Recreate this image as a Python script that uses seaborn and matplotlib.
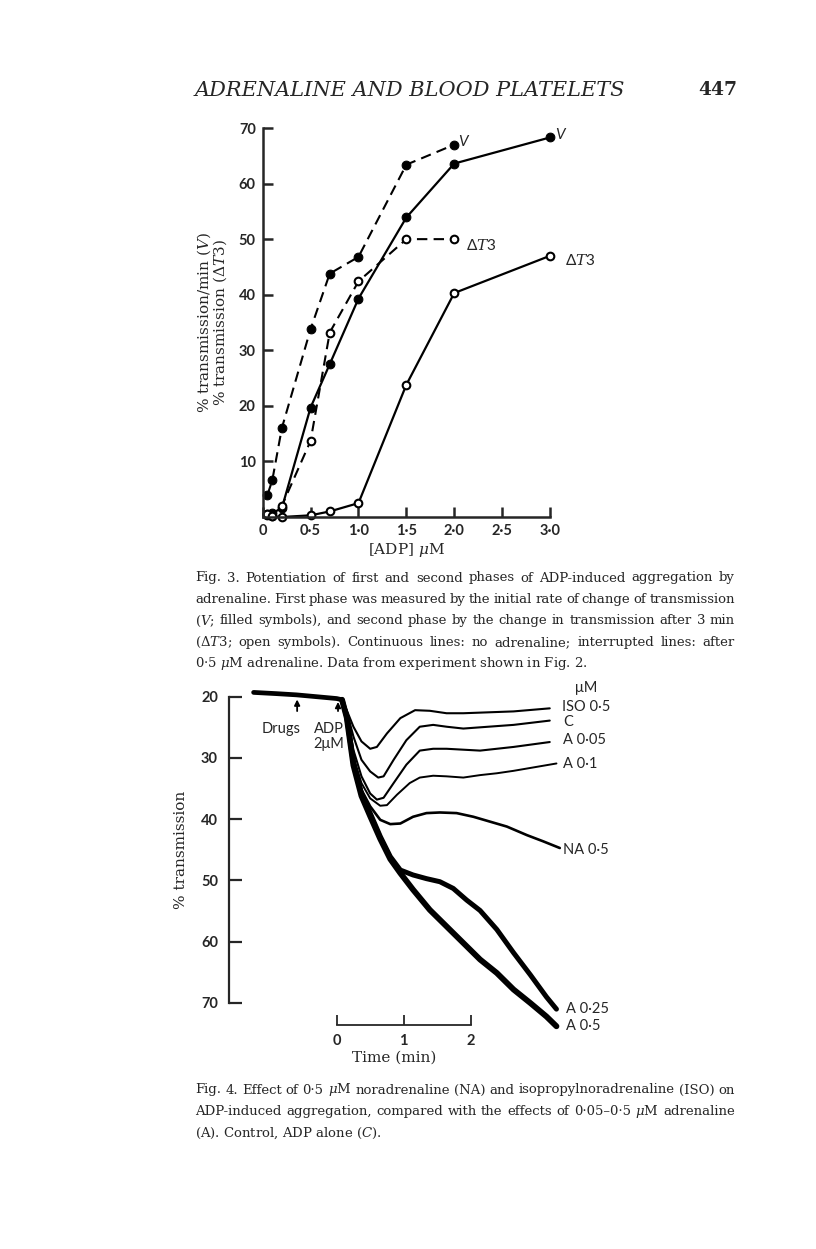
import matplotlib
matplotlib.use("Agg")
import matplotlib.pyplot as plt
import seaborn as sns

# ---- Fig. 3 data : [ADP] uM vs response
adp_v_adr = [0.05, 0.1, 0.2, 0.5, 0.7, 1.0, 1.5, 2.0]
v_adr = [4.0, 6.6, 16.0, 33.8, 43.8, 46.8, 63.4, 67.0]
adp_v_ctl = [0.05, 0.1, 0.2, 0.5, 0.7, 1.0, 1.5, 2.0, 3.0]
v_ctl = [0.4, 0.7, 1.6, 19.7, 27.5, 39.3, 53.9, 63.6, 68.3]
adp_dt_adr = [0.05, 0.1, 0.2, 0.5, 0.7, 1.0, 1.5, 2.0]
dt_adr = [0.6, 0.2, 2.0, 13.7, 33.2, 42.4, 50.0, 50.0]
adp_dt_ctl = [0.05, 0.1, 0.2, 0.5, 0.7, 1.0, 1.5, 2.0, 3.0]
dt_ctl = [0.5, 0.1, 0.0, 0.3, 1.0, 2.5, 23.8, 40.3, 47.0]

# ---- Fig. 4 data : time (min) vs % transmission
base_t = [-1.24, -0.9, -0.6, -0.3, 0.0, 0.08]
base_y = [19.3, 19.5, 19.7, 20.0, 20.3, 20.5]

iso_t = [0.08, 0.15, 0.25, 0.37, 0.5, 0.6, 0.75, 0.95, 1.17, 1.39, 1.64, 1.89, 2.14, 2.64, 3.18]
iso_y = [20.5, 22.2, 24.9, 27.3, 28.5, 28.2, 26.0, 23.5, 22.2, 22.3, 22.7, 22.7, 22.6, 22.4, 21.9]
c_t = [0.08, 0.15, 0.25, 0.37, 0.5, 0.62, 0.7, 0.85, 1.04, 1.24, 1.44, 1.64, 1.89, 2.14, 2.64, 3.18]
c_y = [20.5, 22.4, 26.5, 30.3, 32.2, 33.2, 33.0, 30.3, 27.1, 24.9, 24.6, 24.9, 25.2, 25.0, 24.6, 23.9]
a005_t = [0.08, 0.15, 0.25, 0.37, 0.5, 0.6, 0.7, 0.85, 1.04, 1.24, 1.44, 1.64, 2.14, 2.64, 3.18]
a005_y = [20.5, 22.7, 28.7, 33.0, 35.8, 36.8, 36.5, 34.1, 31.1, 28.8, 28.5, 28.5, 28.8, 28.2, 27.4]
a01_t = [0.08, 0.15, 0.25, 0.37, 0.5, 0.65, 0.75, 0.9, 1.09, 1.24, 1.44, 1.64, 1.89, 2.14, 2.39, 2.64, 3.28]
a01_y = [20.5, 23.0, 29.8, 34.1, 36.6, 37.8, 37.7, 36.0, 34.1, 33.2, 32.9, 33.0, 33.2, 32.8, 32.5, 32.1, 30.9]
na_t = [0.08, 0.15, 0.25, 0.37, 0.5, 0.65, 0.8, 0.95, 1.14, 1.34, 1.54, 1.79, 2.04, 2.29, 2.54, 2.84, 3.08, 3.33]
na_y = [20.5, 23.3, 30.3, 35.2, 37.9, 40.1, 40.8, 40.7, 39.6, 39.0, 38.9, 39.0, 39.6, 40.4, 41.2, 42.6, 43.6, 44.7]
a025_t = [0.08, 0.15, 0.25, 0.37, 0.5, 0.65, 0.8, 0.95, 1.14, 1.34, 1.54, 1.74, 1.94, 2.14, 2.39, 2.64, 2.89, 3.13, 3.28]
a025_y = [20.5, 23.3, 30.9, 35.8, 39.0, 42.8, 46.1, 48.3, 49.1, 49.7, 50.2, 51.3, 53.2, 54.9, 58.0, 61.8, 65.4, 69.0, 71.0]
a05_t = [0.08, 0.15, 0.25, 0.37, 0.5, 0.65, 0.8, 0.95, 1.14, 1.39, 1.64, 1.89, 2.14, 2.39, 2.64, 2.89, 3.13, 3.28]
a05_y = [20.5, 23.4, 31.2, 36.2, 39.5, 43.2, 46.5, 48.8, 51.5, 54.8, 57.5, 60.2, 62.9, 65.1, 67.8, 70.0, 72.2, 73.8]

W, H = 816, 1249
sns.set_style("ticks")
plt.rcParams["font.family"] = ["DejaVu Serif"]
plt.rcParams["mathtext.fontset"] = "dejavuserif"
SANS = "Lato"

fig = plt.figure(figsize=(W / 100, H / 100), dpi=100)
fig.patch.set_facecolor("white")


def rect(x0, y0, x1, y1):
    return [x0 / W, 1 - y1 / H, (x1 - x0) / W, (y1 - y0) / H]


def fx(x):
    return x / W


def fy(y):
    return 1 - y / H


# header
fig.text(fx(410), fy(90), "ADRENALINE AND BLOOD PLATELETS", ha="center", va="center",
         fontsize=15, style="italic")
fig.text(fx(718), fy(90), "447", ha="center", va="center", fontsize=13.5, weight="bold")

# ================= Fig. 3 =================
ax1 = fig.add_axes(rect(262.7, 128, 550, 517))
blk = "black"
sns.lineplot(x=adp_v_adr, y=v_adr, ax=ax1, color=blk, lw=1.5, linestyle=(0, (5, 3)),
             marker="o", markersize=6.3, markerfacecolor=blk, markeredgecolor=blk, sort=False, clip_on=False)
sns.lineplot(x=adp_v_ctl, y=v_ctl, ax=ax1, color=blk, lw=1.6,
             marker="o", markersize=6.3, markerfacecolor=blk, markeredgecolor=blk, sort=False, clip_on=False)
sns.lineplot(x=adp_dt_adr, y=dt_adr, ax=ax1, color=blk, lw=1.5, linestyle=(0, (5, 3)),
             marker="o", markersize=5.5, markerfacecolor="white", markeredgecolor=blk, markeredgewidth=1.5,
             sort=False, clip_on=False)
sns.lineplot(x=adp_dt_ctl, y=dt_ctl, ax=ax1, color=blk, lw=1.6,
             marker="o", markersize=5.5, markerfacecolor="white", markeredgecolor=blk, markeredgewidth=1.5,
             sort=False, clip_on=False)
ax1.set_xlim(0, 3.0)
ax1.set_ylim(0, 70)
sns.despine(ax=ax1)
for s in ("left", "bottom"):
    ax1.spines[s].set_linewidth(1.8)
ax1.set_xticks([0, 0.5, 1.0, 1.5, 2.0, 2.5, 3.0])
ax1.set_xticklabels(["0", "0·5", "1·0", "1·5", "2·0", "2·5", "3·0"])
ax1.set_yticks([10, 20, 30, 40, 50, 60, 70])
ax1.tick_params(direction="in", length=7, width=1.8, labelsize=10.5, pad=5)
for lab in ax1.get_xticklabels() + ax1.get_yticklabels():
    lab.set_fontfamily(SANS)
    lab.set_fontweight("bold")
ax1.set_xlabel("[ADP] $\\mu$M", fontsize=11, labelpad=2)
ax1.set_ylabel("% transmission/min ($V$)\n% transmission ($\\Delta T3$)", fontsize=11,
               labelpad=7, linespacing=0.9)
lab_kw = dict(fontsize=11, family=SANS, va="center", ha="left")
ax1.text(2.04, 67.5, "V", style="italic", **lab_kw)
ax1.text(3.05, 68.7, "V", style="italic", **lab_kw)
ax1.text(2.12, 48.9, "Δ$T$3", **lab_kw)
ax1.text(3.16, 46.2, "Δ$T$3", **lab_kw)

# ================= Fig. 4 =================
ax2 = fig.add_axes(rect(229, 696.7, 560, 1003))
traces = [(iso_t, iso_y, 1.5), (c_t, c_y, 1.5), (a005_t, a005_y, 1.5), (a01_t, a01_y, 1.4),
          (na_t, na_y, 1.9), (a025_t, a025_y, 3.6), (a05_t, a05_y, 4.2)]
sns.lineplot(x=base_t, y=base_y, ax=ax2, color=blk, lw=3.4, sort=False, clip_on=False)
for t, y, lw in traces:
    sns.lineplot(x=t, y=y, ax=ax2, color=blk, lw=lw, sort=False, clip_on=False)
ax2.set_xlim(-1.607, 3.333)
ax2.set_ylim(70, 20)
sns.despine(ax=ax2)
ax2.spines["left"].set_linewidth(1.6)
ax2.spines["left"].set_bounds(20, 70)
ax2.set_yticks([20, 30, 40, 50, 60, 70])
ax2.tick_params(axis="y", direction="in", length=9, width=1.6, labelsize=10.5, pad=8)
# time scale bar as the bottom spine
ax2.spines["bottom"].set_position(("outward", 16))
ax2.spines["bottom"].set_bounds(0, 2)
ax2.spines["bottom"].set_linewidth(1.3)
ax2.set_xticks([0, 1, 2])
ax2.tick_params(axis="x", direction="in", length=7, width=1.3, labelsize=10.5, pad=6)
for lab in ax2.get_xticklabels() + ax2.get_yticklabels():
    lab.set_fontfamily(SANS)
    lab.set_fontweight("bold")
ax2.set_xlabel("Time (min)", fontsize=11, labelpad=2)
ax2.set_ylabel("% transmission", fontsize=11, labelpad=9)

trace_labels = [("μM", 3.55, 18.6), ("ISO 0·5", 3.37, 21.6), ("C", 3.38, 24.1), ("A 0·05", 3.38, 27.1),
                ("A 0·1", 3.38, 31.0), ("NA 0·5", 3.38, 45.0), ("A 0·25", 3.42, 70.9), ("A 0·5", 3.42, 73.8)]
for txt, tx, ty in trace_labels:
    ax2.text(tx, ty, txt, fontsize=10.5, family=SANS, ha="left", va="center", clip_on=False)
ax2.annotate("", xy=(-0.59, 20.0), xytext=(-0.59, 22.8),
             arrowprops=dict(arrowstyle="-|>", color=blk, lw=1.3, mutation_scale=8))
ax2.annotate("", xy=(0.02, 20.4), xytext=(0.02, 22.8),
             arrowprops=dict(arrowstyle="-|>", color=blk, lw=1.3, mutation_scale=8))
ax2.text(-0.83, 25.3, "Drugs", fontsize=10.5, family=SANS, ha="center", va="center")
ax2.text(-0.11, 25.3, "ADP", fontsize=10.5, family=SANS, ha="center", va="center")
ax2.text(-0.12, 27.8, "2μM", fontsize=10.5, family=SANS, ha="center", va="center")

# ================= captions (justified) =================
renderer = fig.canvas.get_renderer()
cap_kw = dict(fontsize=9.55, va="center")


def caption(lines, y0, step, x0=195, x1=735):
    for i, line in enumerate(lines):
        y = y0 + i * step
        words = line.split(" ")
        if i == len(lines) - 1:
            fig.text(fx(x0), fy(y), line, ha="left", **cap_kw)
            continue
        widths = []
        for w in words:
            t = fig.text(0, 0, w, **cap_kw)
            widths.append(t.get_window_extent(renderer).width)
            t.remove()
        gap = (x1 - x0 - sum(widths)) / (len(words) - 1)
        x = x0
        for w, wd in zip(words, widths):
            fig.text(fx(x), fy(y), w, ha="left", **cap_kw)
            x += wd + gap


caption(["Fig. 3. Potentiation of first and second phases of ADP-induced aggregation by",
         "adrenaline. First phase was measured by the initial rate of change of transmission",
         "($V$; filled symbols), and second phase by the change in transmission after 3 min",
         "(Δ$T$3; open symbols). Continuous lines: no adrenaline; interrupted lines: after",
         "0·5 $\\mu$M adrenaline. Data from experiment shown in Fig. 2."], 578, 21.5)
caption(["Fig. 4. Effect of 0·5 $\\mu$M noradrenaline (NA) and isopropylnoradrenaline (ISO) on",
         "ADP-induced aggregation, compared with the effects of 0·05–0·5 $\\mu$M adrenaline",
         "(A). Control, ADP alone ($C$)."], 1090, 21.5)

fig.savefig("out.png", dpi=100, facecolor="white")
